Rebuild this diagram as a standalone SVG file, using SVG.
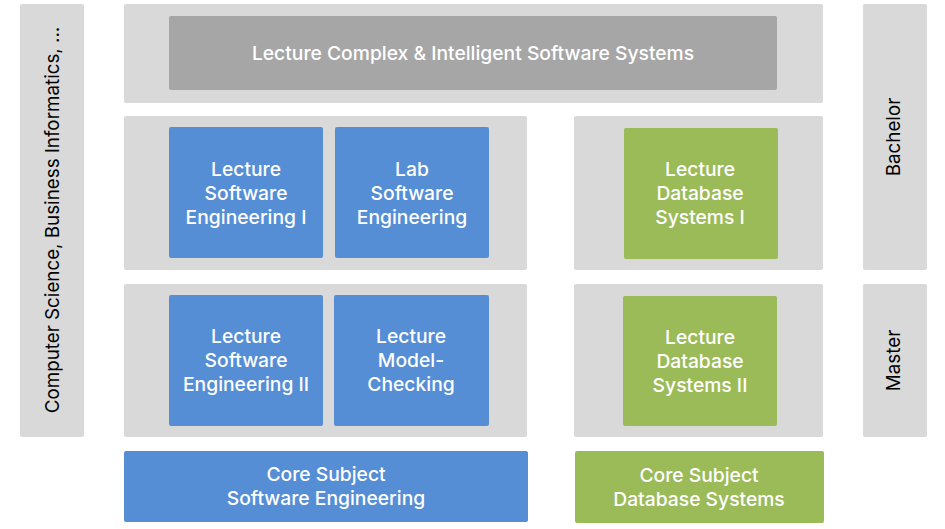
<svg xmlns="http://www.w3.org/2000/svg" width="945" height="529" viewBox="0 0 945 529">
<style>
.panel{fill:#d9d9d9}
.gray{fill:#a6a6a6}
.blue{fill:#558ed5}
.green{fill:#9bbb59}
text{font-family:Inter,"Open Sans","Liberation Sans",sans-serif;text-anchor:middle}
.w{fill:#ffffff;font-size:19.3px;font-weight:500}
.k{fill:#000000;font-size:18.8px}
</style>
<rect width="945" height="529" fill="#ffffff"/>
<g id="side-cs">
<rect class="panel" x="20" y="4" width="64" height="433" rx="2"/>
<text class="k" transform="translate(58.5,220) rotate(-90)">Computer Science, Business Informatics, ...</text>
</g>
<g id="side-bachelor">
<rect class="panel" x="863" y="4" width="64" height="266" rx="2"/>
<text class="k" transform="translate(900,137) rotate(-90)">Bachelor</text>
</g>
<g id="side-master">
<rect class="panel" x="863" y="284" width="64" height="153" rx="2"/>
<text class="k" transform="translate(900,360.5) rotate(-90)">Master</text>
</g>
<g id="panel-top">
<rect class="panel" x="124" y="4" width="699" height="99" rx="2"/>
</g>
<g id="panel-bachelor-se"><rect class="panel" x="124" y="116" width="403" height="154" rx="2"/></g>
<g id="panel-bachelor-db"><rect class="panel" x="574" y="116" width="249" height="154" rx="2"/></g>
<g id="panel-master-se"><rect class="panel" x="124" y="284" width="403" height="153" rx="2"/></g>
<g id="panel-master-db"><rect class="panel" x="574" y="284" width="249" height="153" rx="2"/></g>
<g id="lecture-cis">
<rect class="gray" x="169" y="16" width="608" height="74" rx="2"/>
<text class="w" x="473" y="60">Lecture Complex &amp; Intelligent Software Systems</text>
</g>
<g id="lecture-se1">
<rect class="blue" x="169" y="127" width="154" height="131" rx="2"/>
<text class="w" x="246" y="176">Lecture</text>
<text class="w" x="246" y="200">Software</text>
<text class="w" x="246" y="224">Engineering I</text>
</g>
<g id="lab-se">
<rect class="blue" x="335" y="127" width="154" height="131" rx="2"/>
<text class="w" x="412" y="176">Lab</text>
<text class="w" x="412" y="200">Software</text>
<text class="w" x="412" y="224">Engineering</text>
</g>
<g id="lecture-db1">
<rect class="green" x="624" y="128" width="154" height="131" rx="2"/>
<text class="w" x="700" y="176">Lecture</text>
<text class="w" x="700" y="200">Database</text>
<text class="w" x="700" y="224">Systems I</text>
</g>
<g id="lecture-se2">
<rect class="blue" x="169" y="295" width="154" height="131" rx="2"/>
<text class="w" x="246" y="343">Lecture</text>
<text class="w" x="246" y="367">Software</text>
<text class="w" x="246" y="391">Engineering II</text>
</g>
<g id="lecture-mc">
<rect class="blue" x="334" y="295" width="155" height="131" rx="2"/>
<text class="w" x="411" y="343">Lecture</text>
<text class="w" x="411" y="367">Model-</text>
<text class="w" x="411" y="391">Checking</text>
</g>
<g id="lecture-db2">
<rect class="green" x="623" y="296" width="154" height="130" rx="2"/>
<text class="w" x="700" y="344">Lecture</text>
<text class="w" x="700" y="368">Database</text>
<text class="w" x="700" y="392">Systems II</text>
</g>
<g id="core-se">
<rect class="blue" x="124" y="451" width="404" height="71" rx="2"/>
<text class="w" x="326" y="481">Core Subject</text>
<text class="w" x="326" y="505">Software Engineering</text>
</g>
<g id="core-db">
<rect class="green" x="575" y="451" width="249" height="72" rx="2"/>
<text class="w" x="699" y="482">Core Subject</text>
<text class="w" x="699" y="506">Database Systems</text>
</g>
<g id="connectors"></g>
</svg>
